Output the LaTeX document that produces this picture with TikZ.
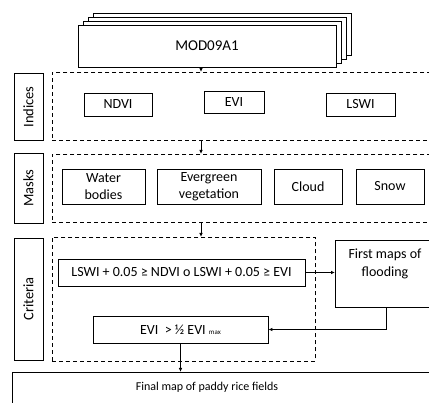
\documentclass[tikz,border=0pt]{standalone}
\usepackage{fontspec}
\setmainfont{Carlito}
\usetikzlibrary{arrows.meta,calc}
\begin{document}
\begin{tikzpicture}[x=1pt,y=-1pt,
  box/.style={draw,line width=0.8pt,fill=white,inner sep=0pt,font=\fontsize{14}{17}\selectfont,align=center},
  dbox/.style={draw,line width=0.8pt,dash pattern=on 4pt off 3pt},
  lab/.style={draw,line width=0.8pt,inner sep=0pt,font=\fontsize{14.5}{16}\selectfont},
  arr/.style={-{Latex[length=4pt,width=3.5pt]},line width=0.8pt}]
\useasboundingbox (0,0) rectangle (429,403);
% stack of MOD09A1
\foreach \i in {3,2,1}{
  \draw[line width=0.8pt,fill=white] (78+5*\i,25-4*\i) rectangle (336+5*\i,67-4*\i);
}
\node[box,minimum width=258pt,minimum height=42pt,font=\fontsize{15}{17}\selectfont] (mod) at (207,46) {MOD09A1};
% Indices
\node[dbox,minimum width=390pt,minimum height=68pt,anchor=north west,inner sep=0pt] (ind) at (52,72) {};
\node[lab,minimum height=29pt,minimum width=67pt,rotate=90] (indl) at (28.5,107) {Indices};
\node[box,minimum width=68pt,minimum height=23pt] (ndvi) at (118,104.5) {NDVI};
\node[box,minimum width=60pt,minimum height=22pt] (evi) at (234,102) {EVI};
\node[box,minimum width=69pt,minimum height=23pt] (lswi) at (360.5,104.5) {LSWI};
% Masks
\node[dbox,minimum width=390pt,minimum height=68pt,anchor=north west,inner sep=0pt] (masks) at (52,154) {};
\node[lab,minimum height=29pt,minimum width=70pt,rotate=90] (masksl) at (28.5,188) {Masks};
\node[box,minimum width=83pt,minimum height=35pt] (water) at (103.5,186.5) {Water\\bodies};
\node[box,minimum width=104pt,minimum height=35pt] (ever) at (209,186.5) {Evergreen\\vegetation};
\node[box,minimum width=68pt,minimum height=35pt] (cloud) at (308,186.5) {Cloud};
\node[box,minimum width=68pt,minimum height=35pt] (snow) at (390,186.5) {Snow};
% Criteria
\node[dbox,minimum width=263pt,minimum height=124pt,anchor=north west,inner sep=0pt] (crit) at (52,237) {};
\node[lab,minimum height=29pt,minimum width=122pt,rotate=90] (critl) at (28.5,299) {Criteria};
\node[box,minimum width=247pt,minimum height=27pt] (form) at (181.5,272.5) {LSWI + 0.05 ≥ NDVI o LSWI + 0.05 ≥ EVI};
\node[box,line width=1.3pt,minimum width=105pt,minimum height=67pt,anchor=north west] (first) at (335,240) {};
\node[font=\fontsize{14}{18}\selectfont,align=center] (firstt) at (385,264) {First maps of\\flooding};
\node[box,minimum width=175pt,minimum height=27pt] (evim) at (180.5,329.5) {EVI\ \ > ½ EVI {\fontsize{7}{8}\selectfont max}};
% Final
\node[box,minimum width=428pt,minimum height=48pt,anchor=north west] (final) at (12,372) {};
\node[font=\fontsize{12}{14}\selectfont] (finalt) at (207,387) {Final map of paddy rice fields};
% arrows
\coordinate (ax) at (201,0);
\coordinate (bx) at (386,0);
\draw[arr] (ax |- mod.south) -- (ax |- ind.north);
\draw[arr] (ax |- ind.south) -- (ax |- masks.north);
\draw[arr] (ax |- masks.south) -- (ax |- crit.north);
\draw[arr] (form.east) -- (first.west |- form.east);
\draw[arr] (bx |- first.south) |- (evim.east);
\draw[arr] (evim.south) -- (evim.south |- final.north);
\end{tikzpicture}
\end{document}
